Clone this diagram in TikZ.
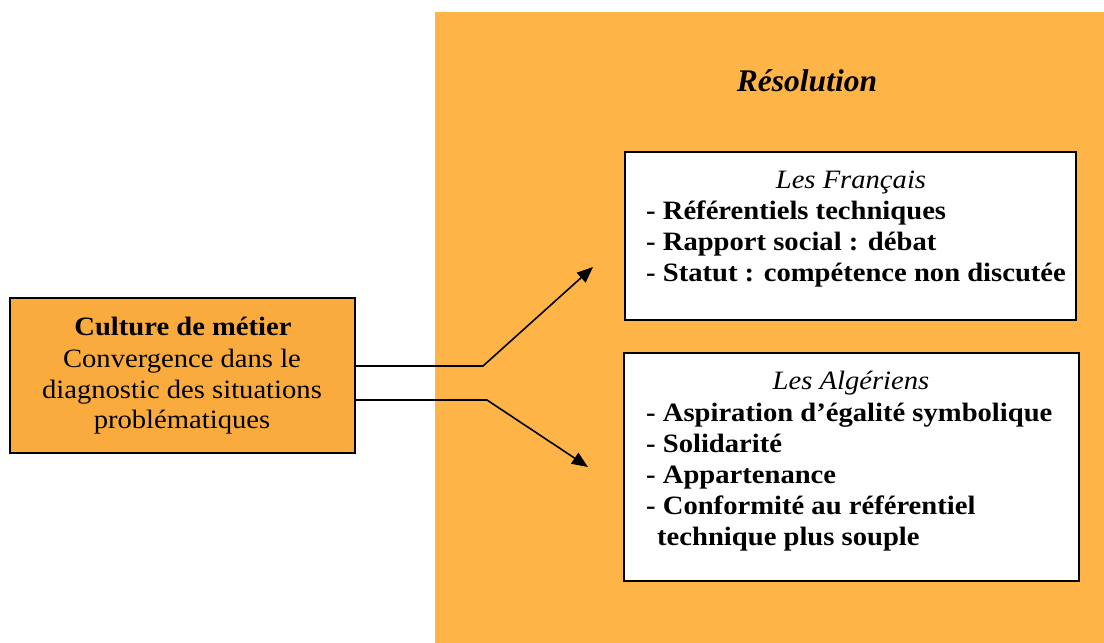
\documentclass[tikz,border=0pt]{standalone}
\usepackage{fontspec}
\setmainfont[FakeStretch=1.08]{Liberation Serif}
\newfontfamily\titlefont{Liberation Serif}
\usetikzlibrary{arrows.meta}
\definecolor{panelorange}{RGB}{255,180,72}
\definecolor{boxorange}{RGB}{250,171,62}
\begin{document}
\begin{tikzpicture}[x=1pt,y=-1pt,
  txt/.style={inner sep=0pt, font=\fontsize{26.5}{31}\selectfont},
  ctxt/.style={txt, anchor=base},
  ltxt/.style={txt, anchor=base west},
  btxt/.style={ltxt, font=\fontsize{26.5}{31}\selectfont\bfseries},
  itxt/.style={ctxt, font=\fontsize{26.5}{31}\selectfont\itshape},
  wbox/.style={draw=black, fill=white, line width=1.5pt, inner sep=0pt},
  obox/.style={draw=black, fill=boxorange, line width=1.5pt, inner sep=0pt},
  conn/.style={draw=black, line width=1.6pt},
  arr/.style={conn, -{Triangle[length=16pt,width=13pt]}}
]
\useasboundingbox (0,0) rectangle (1104,643);
\fill[white] (0,0) rectangle (1104,643);
% panel
\node[fill=panelorange, inner sep=0pt, minimum width=669pt, minimum height=631pt] (panel) at (769.5,327.5) {};
\node[inner sep=0pt, anchor=base, font=\titlefont\fontsize{31.5}{36}\selectfont\bfseries\itshape] (res) at (807,91) {Résolution};
% left box
\node[obox, minimum width=345pt, minimum height=155pt] (left) at (182.5,375.5) {};
\node[ctxt, font=\fontsize{26.5}{31}\selectfont\bfseries] (l1) at (183,335) {Culture de métier};
\node[ctxt] (l2) at (182,367) {Convergence dans le};
\node[ctxt] (l3) at (182,398) {diagnostic des situations};
\node[ctxt] (l4) at (182,428) {problématiques};
% French box
\node[wbox, minimum width=451pt, minimum height=168pt] (fr) at (850.5,236) {};
\node[itxt] (fr0) at (851,188) {Les Français};
\node[btxt] (fr1) at (646,219) {- Référentiels techniques};
\node[btxt] (fr2) at (646,250) {- Rapport social : débat};
\node[btxt] (fr3) at (646,281) {- Statut : compétence non discutée};
% Algerian box
\node[wbox, minimum width=455pt, minimum height=228pt] (alg) at (851.5,467) {};
\node[itxt] (al0) at (851,389) {Les Algériens};
\node[btxt] (al1) at (646,421) {- Aspiration d’égalité symbolique};
\node[btxt] (al2) at (646,452) {- Solidarité};
\node[btxt] (al3) at (646,483) {- Appartenance};
\node[btxt] (al4) at (646,514) {- Conformité au référentiel};
\node[btxt] (al5) at (657,545) {technique plus souple};
% connectors
\coordinate (ub) at (483,366);
\coordinate (ut) at (593,267);
\coordinate (db) at (487,400);
\coordinate (dt) at (588,467);
\draw[arr] (left.east |- ub) -- (ub) -- (ut);
\draw[arr] (left.east |- db) -- (db) -- (dt);
\end{tikzpicture}
\end{document}
